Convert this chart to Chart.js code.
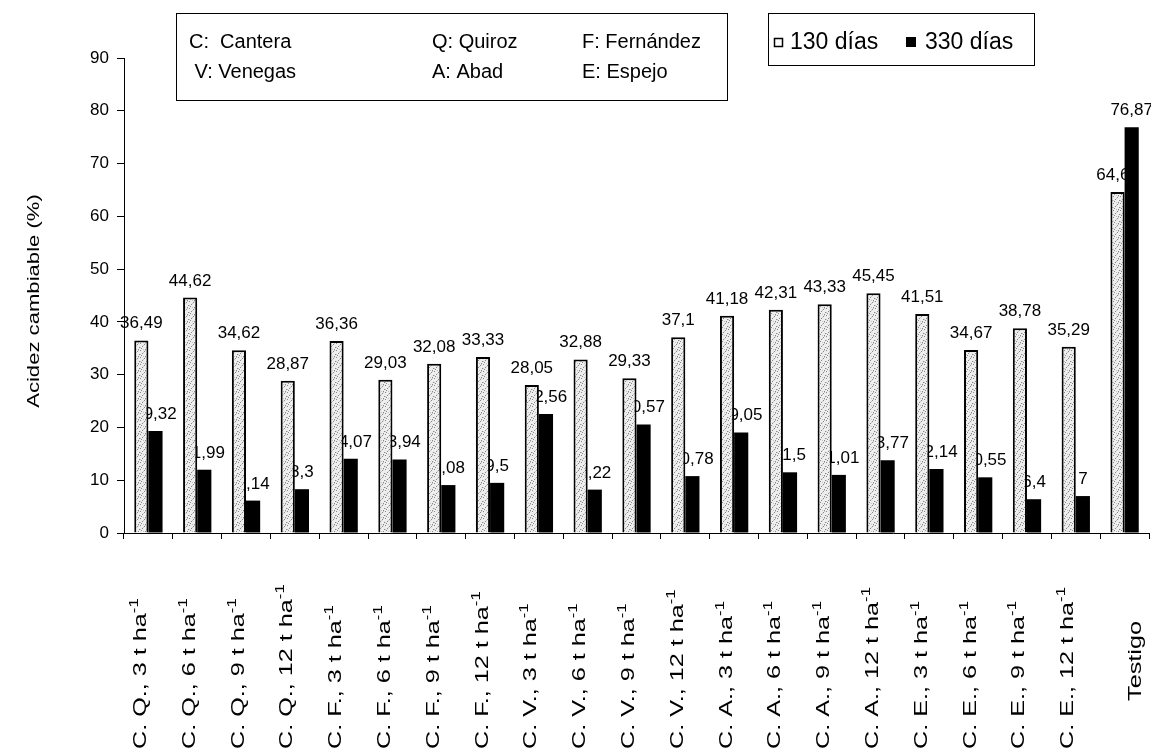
<!DOCTYPE html>
<html>
<head>
<meta charset="utf-8">
<script src="https://cdn.jsdelivr.net/npm/chart.js@4.4.0/dist/chart.umd.min.js"></script>
<style>
html, body { margin: 0; padding: 0; background: #fff; }
#wrap { width: 1151px; height: 754px; position: relative; }
</style>
</head>
<body>
<div id="wrap"><canvas id="myChart"></canvas></div>
<script>
// data
const categories = [
  'C. Q., 3 t ha⁻¹', 'C. Q., 6 t ha⁻¹', 'C. Q., 9 t ha⁻¹', 'C. Q., 12 t ha⁻¹',
  'C. F., 3 t ha⁻¹', 'C. F., 6 t ha⁻¹', 'C. F., 9 t ha⁻¹', 'C. F., 12 t ha⁻¹',
  'C. V., 3 t ha⁻¹', 'C. V., 6 t ha⁻¹', 'C. V., 9 t ha⁻¹', 'C. V., 12 t ha⁻¹',
  'C. A., 3 t ha⁻¹', 'C. A., 6 t ha⁻¹', 'C. A., 9 t ha⁻¹', 'C. A., 12 t ha⁻¹',
  'C. E., 3 t ha⁻¹', 'C. E., 6 t ha⁻¹', 'C. E., 9 t ha⁻¹', 'C. E., 12 t ha⁻¹',
  'Testigo'
];
const dias130 = [36.49, 44.62, 34.62, 28.87, 36.36, 29.03, 32.08, 33.33, 28.05, 32.88, 29.33,
                 37.1, 41.18, 42.31, 43.33, 45.45, 41.51, 34.67, 38.78, 35.29, 64.62];
const dias330 = [19.32, 11.99, 6.14, 8.3, 14.07, 13.94, 9.08, 9.5, 22.56, 8.22, 20.57,
                 10.78, 19.05, 11.5, 11.01, 13.77, 12.14, 10.55, 6.4, 7, 76.87];
const seriesNames = ['130 días', '330 días'];
const yMin = 0, yMax = 90, yStep = 10;
const yTitle = 'Acidez cambiable (%)';
const abbrevRow1 = ['C:  Cantera', 'Q: Quiroz', 'F: Fernández'];
const abbrevRow2 = [' V: Venegas', 'A: Abad', 'E: Espejo'];

const FONT = "'Liberation Sans', Arial, sans-serif";
const ctx = document.getElementById('myChart');
const g2d = ctx.getContext('2d');

// light grey stipple like the scanned fill
function stipple() {
  const c = document.createElement('canvas');
  c.width = 7; c.height = 7;
  const g = c.getContext('2d');
  g.fillStyle = '#eeeeee';
  g.fillRect(0, 0, 7, 7);
  g.fillStyle = '#888888';
  [[0,0],[4,1],[2,3],[6,4],[1,5],[5,6]].forEach(p => g.fillRect(p[0], p[1], 1, 1));
  g.fillStyle = '#c4c4c4';
  [[3,2],[0,4],[5,0],[3,6]].forEach(p => g.fillRect(p[0], p[1], 1, 1));
  return g2d.createPattern(c, 'repeat');
}

function fmt(v) { return String(v).replace('.', ','); }

const valueLabels = {
  id: 'valueLabels',
  afterDatasetDraw(chart, args) {
    const c = chart.ctx;
    const data = chart.data.datasets[args.index].data;
    c.save();
    c.font = '17px ' + FONT;
    c.fillStyle = '#000';
    c.textAlign = 'center';
    c.textBaseline = 'alphabetic';
    args.meta.data.forEach((bar, i) => {
      c.fillText(fmt(data[i]), bar.x, bar.y - 12);
    });
    c.restore();
  }
};

const extras = {
  id: 'extras',
  afterDraw(chart) {
    const c = chart.ctx;
    const xs = chart.scales.x;
    c.save();
    c.fillStyle = '#000';
    c.strokeStyle = '#000';

    // y axis title
    c.save();
    c.translate(34, 301);
    c.rotate(-Math.PI / 2);
    c.scale(1.3, 1);
    c.font = '17px ' + FONT;
    c.textAlign = 'center';
    c.textBaseline = 'middle';
    c.fillText(yTitle, 0, 0);
    c.restore();

    // category labels, rotated, with superscript
    categories.forEach((lab, i) => {
      const sup = lab.endsWith('⁻¹');
      const main = sup ? lab.slice(0, -2) : lab;
      const px = xs.getPixelForValue(i) + (sup ? -9 : 10);
      c.save();
      c.translate(px, sup ? 749 : 661);
      c.rotate(-Math.PI / 2);
      c.scale(1.4, 1);
      c.textAlign = 'left';
      c.textBaseline = 'alphabetic';
      c.font = '18px ' + FONT;
      const w1 = c.measureText(main).width;
      c.font = '12px ' + FONT;
      const w2 = sup ? c.measureText('-1').width : 0;
      const start = sup ? 0 : -(w1 + w2) / 2;
      c.font = '18px ' + FONT;
      c.fillText(main, start, 6.5);
      if (sup) {
        c.font = '12px ' + FONT;
        c.fillText('-1', start + w1, -1.5);
      }
      c.restore();
    });

    // abbreviation box
    c.lineWidth = 1;
    c.strokeRect(176.5, 13.5, 551, 87);
    c.font = '20px ' + FONT;
    c.textAlign = 'left';
    c.textBaseline = 'middle';
    const colX = [189, 432, 582];
    abbrevRow1.forEach((t, k) => c.fillText(t, colX[k], 42));
    abbrevRow2.forEach((t, k) => c.fillText(t, colX[k], 72));

    // series legend
    c.strokeRect(768.5, 13.5, 266, 52);
    c.fillStyle = '#fff';
    c.fillRect(774, 38, 9, 9);
    c.lineWidth = 1.5;
    c.strokeRect(774.5, 38.5, 8, 8);
    c.fillStyle = '#000';
    c.fillRect(906, 37, 10, 10);
    c.font = '23px ' + FONT;
    c.fillText(seriesNames[0], 790, 43);
    c.fillText(seriesNames[1], 925, 43);
    c.restore();
  }
};

new Chart(ctx, {
  type: 'bar',
  data: {
    labels: categories,
    datasets: [{
      label: seriesNames[0],
      data: dias130,
      backgroundColor: stipple(),
      borderColor: '#000',
      borderWidth: 2,
      categoryPercentage: 0.58,
      barPercentage: 1.0
    }, {
      label: seriesNames[1],
      data: dias330,
      backgroundColor: '#000',
      borderWidth: 0,
      categoryPercentage: 0.58,
      barPercentage: 1.0
    }]
  },
  options: {
    responsive: true,
    maintainAspectRatio: false,
    animation: false,
    layout: { padding: { top: 58, right: 2, left: 0, bottom: 0 } },
    plugins: {
      legend: { display: false },
      tooltip: { enabled: false }
    },
    scales: {
      x: {
        grid: { offset: true, drawOnChartArea: false, tickLength: 6, color: '#000' },
        border: { color: '#000', width: 1 },
        ticks: { display: false },
        afterFit(scale) { scale.height = 221; }
      },
      y: {
        min: yMin,
        max: yMax,
        ticks: {
          stepSize: yStep,
          color: '#000',
          padding: 8,
          font: { family: FONT, size: 17 }
        },
        grid: { drawOnChartArea: false, tickLength: 7, color: '#000' },
        border: { color: '#000', width: 1 },
        afterFit(scale) { scale.width = 124; }
      }
    }
  },
  plugins: [valueLabels, extras]
});
</script>
</body>
</html>
